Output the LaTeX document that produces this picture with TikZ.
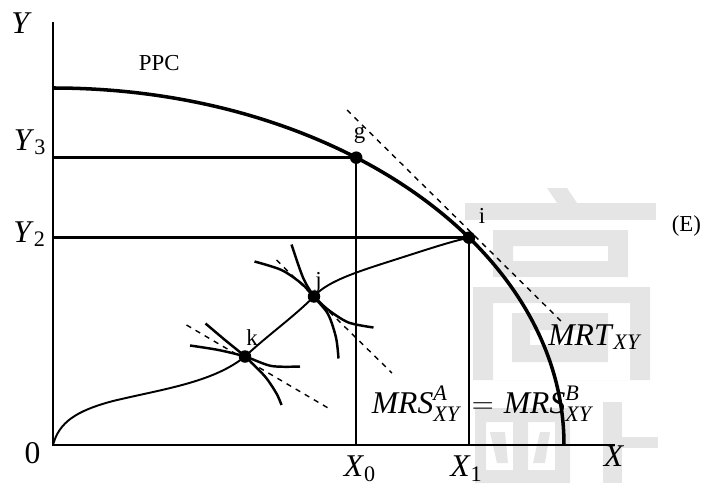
\documentclass[tikz,border=0pt]{standalone}
\usepackage{amsmath}
\usepackage{fontspec}
\setmainfont{Liberation Serif}
\usepackage{tikz}
\usetikzlibrary{positioning}

\begin{document}
\begin{tikzpicture}[
    dot/.style={circle, fill=black, inner sep=0pt, minimum size=0.25cm},
    lbl/.style={font=\fontsize{13}{15}\selectfont, inner sep=0pt},
    biglbl/.style={font=\fontsize{18}{20}\selectfont, inner sep=0pt},
    tangent/.style={dash pattern=on 3pt off 3pt, line width=0.8pt},
    indiff/.style={line width=1.4pt},
    wmark/.style={fill=black!10}
]
    \useasboundingbox (-1.06,-0.76) rectangle (12.96,8.9);

    % Watermark in the background
    \fill[wmark] (9.88,5.14) -- (10.28,5.14) -- (10.48,4.84) -- (10.08,4.84) -- cycle;
    \fill[wmark] (8.24,4.84) rectangle (12.06,4.50);
    \fill[wmark, even odd rule] (8.80,4.30) rectangle (11.50,3.36) (9.20,3.98) rectangle (11.10,3.68);
    \fill[wmark, even odd rule] (8.40,3.16) rectangle (11.94,1.30) (8.80,2.84) rectangle (11.54,1.30);
    \fill[wmark, even odd rule] (9.18,2.64) rectangle (11.10,1.66) (9.54,2.30) rectangle (10.74,2.00);
    \fill[wmark, even odd rule] (8.44,0.74) rectangle (10.34,-0.76)
        (8.66,0.46) rectangle (9.20,-0.50) (9.50,0.46) rectangle (10.04,-0.50);
    \fill[wmark] (8.74,0.26) -- (9.04,0.26) -- (9.10,-0.36) -- (8.88,-0.36) -- cycle;
    \fill[wmark] (9.74,0.26) -- (9.94,0.26) -- (9.84,-0.36) -- (9.60,-0.36) -- cycle;
    \fill[wmark] (11.00,0.86) rectangle (11.38,-0.76);
    \fill[wmark] (11.38,0.16) rectangle (12.10,-0.06);

    % Axes
    \coordinate (O) at (0,0);
    \coordinate (ytop) at (0,8.46);
    \coordinate (xend) at (11.24,0);
    \draw[line width=1.4pt] (ytop) -- (O) -- (xend);

    % PPC (quarter ellipse, semi-axes 10.22 and 7.14)
    \draw[line width=2pt] (0,7.14) arc[start angle=90, end angle=0, x radius=10.22, y radius=7.14];

    % Points g and i on the PPC
    \node[dot] (g) at ({10.22*cos(53.6)},{7.14*sin(53.6)}) {};
    \node[dot] (i) at ({10.22*cos(35.5)},{7.14*sin(35.5)}) {};
    \coordinate (Y3) at (O |- g);
    \coordinate (Y2) at (O |- i);
    \coordinate (X0) at (O -| g);
    \coordinate (X1) at (O -| i);
    \draw[line width=1.4pt] (Y3) -- (g.center) -- (X0);
    \draw[line width=1.4pt] (Y2) -- (i.center) -- (X1);

    % MRT tangent near i
    \coordinate (mrtA) at (5.88,6.70);
    \coordinate (mrtB) at (10.18,2.46);
    \draw[tangent] (mrtA) -- (mrtB);

    % Contract curve 0 - k - j - i
    \node[dot] (k) at (3.84,1.77) {};
    \node[dot] (j) at (5.22,2.97) {};
    \draw[line width=1.1pt] (O) .. controls (0.12,0.45) and (0.45,0.68) .. (1.2,0.88)
        .. controls (2.2,1.12) and (3.2,1.25) .. (k.center)
        .. controls (4.3,2.2) and (4.8,2.55) .. (j.center)
        .. controls (5.5,3.3) and (6.2,3.5) .. (7.04,3.77)
        .. controls (7.6,3.95) and (8.0,4.08) .. (i.center);

    % Indifference curves and common tangent at k
    \draw[indiff] plot[smooth] coordinates {(2.74,1.99) (3.31,1.90) (k.center) (4.37,1.58) (4.94,1.57)};
    \draw[indiff] plot[smooth] coordinates {(3.05,2.43) (3.44,2.10) (k.center) (4.24,1.37) (4.47,1.03) (4.57,0.80)};
    \draw[tangent] (2.67,2.40) -- (5.57,0.70);

    % Indifference curves and common tangent at j
    \draw[indiff] plot[smooth] coordinates {(4.03,3.67) (4.57,3.50) (4.97,3.23) (j.center) (5.51,2.70) (5.91,2.45) (6.41,2.35)};
    \draw[indiff] plot[smooth] coordinates {(4.77,4.01) (5.00,3.35) (j.center) (5.50,2.62) (5.66,2.15) (5.71,1.73)};
    \draw[tangent] (4.47,3.70) -- (6.78,1.44);

    % Labels
    \node[biglbl] (ylab) at (-0.63,8.44) {\textit{Y}};
    \node[biglbl, anchor=base west] (y3lab) at (-0.79,5.90) {\textit{Y}\textsubscript{3}};
    \node[biglbl, anchor=base west] (y2lab) at (-0.80,4.06) {\textit{Y}\textsubscript{2}};
    \node[biglbl, anchor=base] (zero) at (-0.41,-0.37) {0};
    \node[biglbl, anchor=base west] (x0lab) at (5.81,-0.63) {\textit{X}\textsubscript{0}};
    \node[biglbl, anchor=base west] (x1lab) at (7.94,-0.63) {\textit{X}\textsubscript{1}};
    \node[biglbl, anchor=base west] (xlab) at (11.01,-0.43) {\textit{X}};
    \node[lbl, anchor=base west] (ppclab) at (1.71,7.49) {PPC};
    \node[lbl, anchor=base west] (elab) at (12.37,4.28) {(E)};
    \node[lbl, anchor=base west] (glab) at (6.01,6.14) {g};
    \node[lbl, anchor=base west] (ilab) at (8.51,4.43) {i};
    \node[lbl, anchor=base west] (jlab) at (5.24,3.16) {j};
    \node[lbl, anchor=base west] (klab) at (3.86,2.00) {k};
    \node[biglbl, anchor=base west] (mrtlab) at (9.90,2.00) {\textit{MRT}\textsubscript{\textit{XY}}};
    \node[biglbl, anchor=base west] (mrslab) at (6.37,0.63)
        {$\textit{MRS}^{\textit{A}}_{\textit{XY}} \mkern2mu = \mkern1mu \textit{MRS}^{\textit{B}}_{\textit{XY}}$};
\end{tikzpicture}
\end{document}
